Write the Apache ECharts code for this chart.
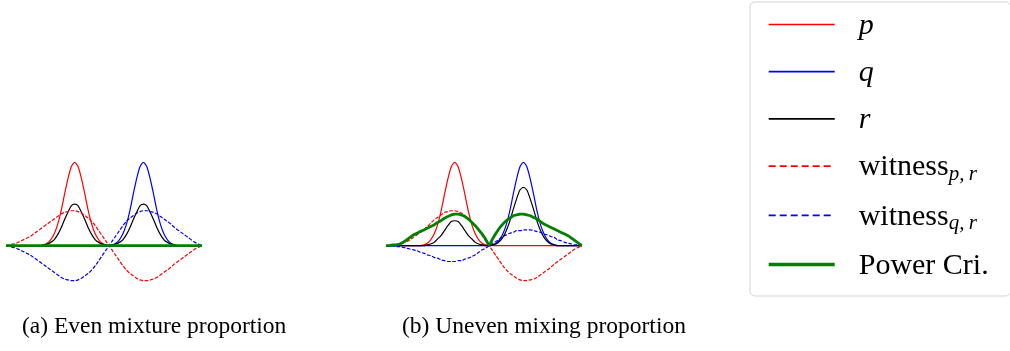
<!DOCTYPE html>
<html>
<head>
<meta charset="utf-8">
<script src="https://cdn.jsdelivr.net/npm/echarts@6/dist/echarts.min.js"></script>
<style>
  html, body { margin: 0; padding: 0; background: #fff; }
  #chart { width: 1010px; height: 351px; }
</style>
</head>
<body>
<div id="chart"></div>
<script>
// Sample positions shared by every curve
const X = [-3.0,-2.9,-2.8,-2.7,-2.6,-2.5,-2.4,-2.3,-2.2,-2.1,-2.0,-1.9,-1.8,-1.7,-1.6,-1.5,-1.4,-1.3,-1.2,-1.1,
  -1.0,-0.9,-0.8,-0.7,-0.6,-0.5,-0.4,-0.3,-0.2,-0.1,0,0.1,0.2,0.3,0.4,0.5,0.6,0.7,0.8,0.9,
  1.0,1.1,1.2,1.3,1.4,1.5,1.6,1.7,1.8,1.9,2.0,2.1,2.2,2.3,2.4,2.5,2.6,2.7];

// Densities p and q (same in both panels)
const P = [0,0,0,0,0,0,0,0,0,0,0,.01,.03,.07,.14,.25,.41,.61,.80,.95,
  1.00,.95,.80,.61,.41,.25,.14,.07,.03,.01,0,0,0,0,0,0,0,0,0,0,
  0,0,0,0,0,0,0,0,0,0,0,0,0,0,0,0,0,0];
const Q = [0,0,0,0,0,0,0,0,0,0,0,0,0,0,0,0,0,0,0,0,
  0,0,0,0,0,0,0,0,0,0,0,.01,.03,.07,.14,.25,.41,.61,.80,.95,
  1.00,.95,.80,.61,.41,.25,.14,.07,.03,.01,0,0,0,0,0,0,0,0];

// (a) even mixture
const R_A = [0,0,0,0,0,0,0,0,0,0,0,.01,.02,.04,.07,.13,.21,.31,.40,.48,
  .50,.48,.40,.31,.21,.13,.07,.04,.02,.01,0,.01,.02,.04,.07,.13,.21,.31,.40,.48,
  .50,.48,.40,.31,.21,.13,.07,.04,.02,.01,0,0,0,0,0,0,0,0];
const WPR_A = [0,.01,.02,.03,.05,.07,.09,.11,.14,.17,.20,.23,.26,.29,.32,.35,.38,.40,.41,.42,
  .42,.41,.39,.36,.33,.29,.24,.18,.12,.06,0,-.06,-.12,-.18,-.24,-.29,-.33,-.36,-.39,-.41,
  -.42,-.42,-.41,-.40,-.38,-.35,-.32,-.29,-.26,-.22,-.19,-.16,-.13,-.10,-.07,-.04,-.02,0];
const WQR_A = [0,-.01,-.02,-.03,-.05,-.07,-.09,-.11,-.14,-.17,-.20,-.23,-.26,-.29,-.32,-.35,-.38,-.40,-.41,-.42,
  -.42,-.41,-.39,-.36,-.33,-.29,-.24,-.18,-.12,-.06,0,.06,.12,.18,.24,.29,.33,.36,.39,.41,
  .42,.42,.41,.40,.38,.35,.32,.29,.26,.22,.19,.16,.13,.10,.07,.04,.02,0];
const POW_A = [0,0,0,0,0,0,0,0,0,0,0,0,0,0,0,0,0,0,0,0,
  0,0,0,0,0,0,0,0,0,0,0,0,0,0,0,0,0,0,0,0,
  0,0,0,0,0,0,0,0,0,0,0,0,0,0,0,0,0,0];

// (b) uneven mixture
const R_B = [0,0,0,0,0,0,0,0,0,0,0,0,.01,.02,.04,.08,.12,.18,.24,.29,
  .30,.29,.24,.18,.12,.08,.04,.02,.01,0,0,.01,.02,.05,.10,.18,.29,.43,.56,.67,
  .70,.67,.56,.43,.29,.18,.10,.05,.02,.01,0,0,0,0,0,0,0,0];
const WPR_B = [0,0,.01,.01,.02,.03,.05,.07,.10,.13,.16,.19,.23,.27,.31,.34,.37,.40,.41,.42,
  .42,.41,.39,.36,.33,.29,.24,.18,.12,.06,0,-.06,-.12,-.18,-.24,-.29,-.33,-.36,-.39,-.41,
  -.42,-.42,-.41,-.40,-.38,-.35,-.32,-.29,-.26,-.22,-.19,-.16,-.13,-.10,-.07,-.04,-.02,0];
const WQR_B = [0,0,0,-.01,-.01,-.02,-.03,-.04,-.05,-.06,-.08,-.09,-.11,-.12,-.14,-.15,-.17,-.18,-.19,-.19,
  -.19,-.18,-.18,-.16,-.15,-.13,-.11,-.08,-.05,-.03,0,.03,.05,.08,.11,.13,.15,.16,.18,.18,
  .19,.19,.19,.18,.17,.16,.14,.13,.11,.10,.07,.06,.04,.03,.02,.01,.01,0];
const POW_B = [0,0,.01,.01,.02,.04,.07,.10,.13,.15,.17,.19,.21,.23,.25,.28,.30,.33,.35,.37,
  .38,.38,.37,.35,.32,.28,.24,.19,.14,.08,0,.08,.15,.21,.26,.30,.33,.36,.37,.38,
  .38,.37,.36,.34,.32,.29,.26,.24,.22,.20,.18,.16,.14,.12,.09,.06,.03,0];

const CAPTIONS = ['(a) Even mixture proportion', '(b) Uneven mixing proportion'];
const NAMES = ['p', 'q', 'r', 'witness_pr', 'witness_qr', 'Power Cri.'];
const LEGEND_TEXT = {
  'p': '{i|p}',
  'q': '{i|q}',
  'r': '{i|r}',
  'witness_pr': '{t|witness}{s|p,\u2009r}',
  'witness_qr': '{t|witness}{s|q,\u2009r}',
  'Power Cri.': '{t|Power Cri.}'
};

const SERIF = 'Liberation Serif, Times New Roman, serif';
const STYLES = {
  'p': { color: '#ff0000', width: 1.2, type: 'solid' },
  'q': { color: '#0000ff', width: 1.2, type: 'solid' },
  'r': { color: '#000000', width: 1.2, type: 'solid' },
  'witness_pr': { color: '#ff0000', width: 1.2, type: [3.7, 1.6] },
  'witness_qr': { color: '#0000ff', width: 1.2, type: [3.7, 1.6] },
  'Power Cri.': { color: '#008000', width: 2.8, type: 'solid' }
};

function pts(ys) { return X.map((x, i) => [x, ys[i]]); }

function panelSeries(idx, values) {
  return NAMES.map((name, k) => ({
    name: name,
    type: 'line',
    xAxisIndex: idx,
    yAxisIndex: idx,
    data: pts(values[k]),
    symbol: 'none',
    smooth: name === 'Power Cri.' ? false : 0.25,
    silent: true,
    itemStyle: { color: STYLES[name].color },
    lineStyle: STYLES[name]
  }));
}

const chart = echarts.init(document.getElementById('chart'), null, { renderer: 'canvas' });

const panelGrid = (left) => ({ left: left, top: 162.5, width: 195.8, height: 124.8 });
const xAx = (g) => ({ gridIndex: g, type: 'value', min: -3, max: 2.7, show: false });
const yAx = (g) => ({ gridIndex: g, type: 'value', min: -0.5, max: 1.0, show: false });

chart.setOption({
  backgroundColor: '#ffffff',
  animation: false,
  grid: [panelGrid(6), panelGrid(386)],
  xAxis: [xAx(0), xAx(1)],
  yAxis: [yAx(0), yAx(1)],
  title: CAPTIONS.map((text, k) => ({
    text: text,
    left: k === 0 ? 22 : 402,
    top: 314,
    padding: 0,
    textStyle: { fontFamily: SERIF, fontSize: 23.5, fontWeight: 'normal', color: '#000', lineHeight: 26 }
  })),
  legend: {
    orient: 'vertical',
    left: 750,
    top: 2,
    itemWidth: 66,
    itemHeight: 14,
    itemGap: 17.2,
    padding: [9, 22, 15, 17],
    backgroundColor: '#ffffff',
    borderColor: '#d4d4d4',
    borderWidth: 1,
    borderRadius: 5,
    selectedMode: false,
    itemStyle: { opacity: 0 },
    data: NAMES.map(name => ({
      name: name,
      lineStyle: {
        width: name === 'Power Cri.' ? 3.4 : 1.7,
        type: STYLES[name].type === 'solid' ? 'solid' : [7, 4]
      }
    })),
    formatter: name => LEGEND_TEXT[name],
    textStyle: {
      color: '#000',
      fontFamily: SERIF,
      fontSize: 30,
      padding: [3, 0, 0, 19],
      rich: {
        i: { fontFamily: SERIF, fontStyle: 'italic', fontSize: 30, lineHeight: 34, color: '#000' },
        t: { fontFamily: SERIF, fontSize: 30, lineHeight: 34, color: '#000' },
        s: { fontFamily: SERIF, fontStyle: 'italic', fontSize: 21, lineHeight: 12, verticalAlign: 'bottom', color: '#000' }
      }
    }
  },
  series: [
    ...panelSeries(0, [P, Q, R_A, WPR_A, WQR_A, POW_A]),
    ...panelSeries(1, [P, Q, R_B, WPR_B, WQR_B, POW_B])
  ]
});
</script>
</body>
</html>
